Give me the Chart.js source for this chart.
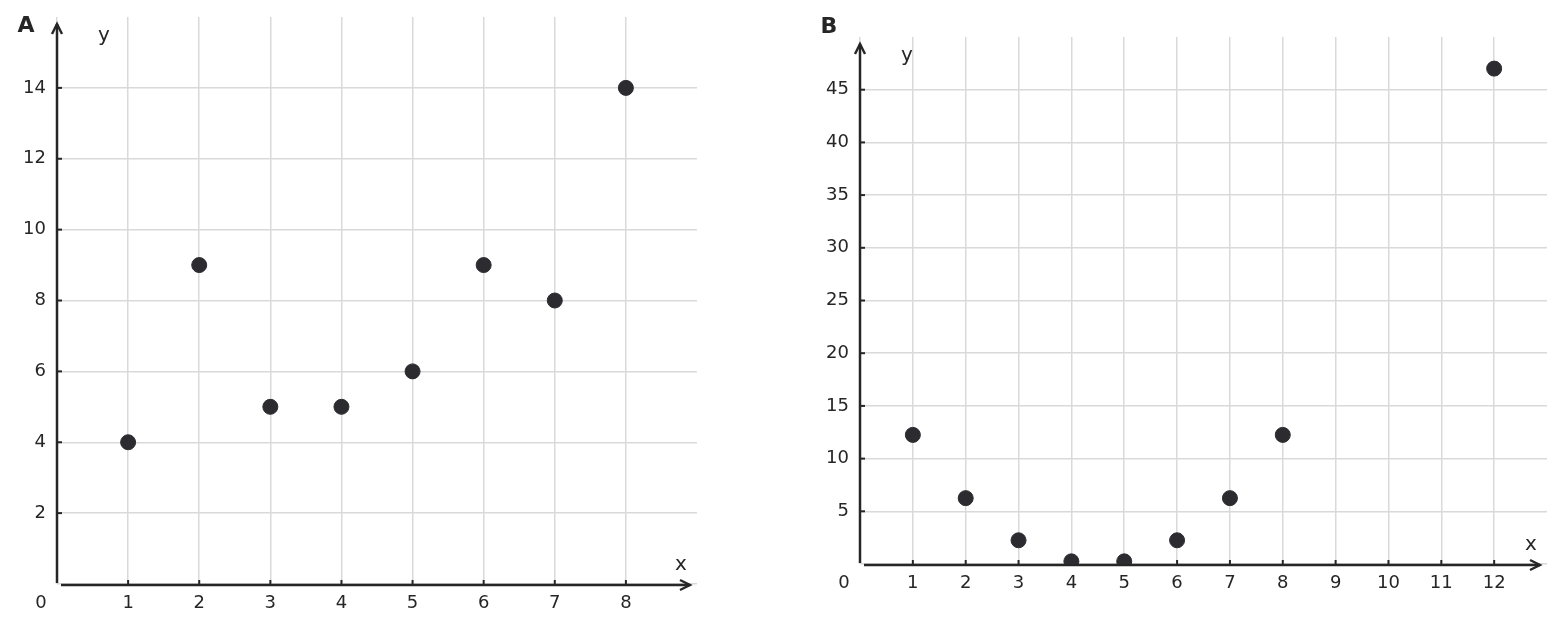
<!DOCTYPE html>
<html>
<head>
<meta charset="utf-8">
<script src="https://cdn.jsdelivr.net/npm/chart.js@4/dist/chart.umd.min.js"></script>
<style>
  html, body { margin:0; padding:0; background:#fff; }
  #wrap { position:relative; width:1565px; height:633px; }
  canvas { position:absolute; top:0; }
</style>
</head>
<body>
<div id="wrap">
  <canvas id="graficoA" width="780" height="633" style="left:0px;width:780px;height:633px;"></canvas>
  <canvas id="graficoB" width="785" height="633" style="left:780px;width:785px;height:633px;"></canvas>
</div>
<script>
// ================== Dados ==================
const aX = [1, 2, 3, 4, 5, 6, 7, 8];
const aY = [4, 9, 5, 5, 6, 9, 8, 14];
const aXMax = 9, aYMax = 16, aYStep = 2;

const bX = [1, 2, 3, 4, 5, 6, 7, 8, 12];
const bY = [12.25, 6.25, 2.25, 0.25, 0.25, 2.25, 6.25, 12.25, 47];
const bXMax = 13, bYMax = 50, bYStep = 5;

const corEixo = '#262626';
const corGrade = '#d9d9d9';
const corPonto = '#2b2b30';
const fonte = '"DejaVu Sans", sans-serif';

// ================== Plugin: eixos com setas e rótulos ==================
const eixosPlugin = {
  id: 'eixos',
  beforeDatasetsDraw(chart, args, o) {
    const ctx = chart.ctx;
    const { left, right, top, bottom } = chart.chartArea;
    const xs = chart.scales.x, ys = chart.scales.y;
    const tipY = top + 7, tipX = right - 7;

    ctx.save();
    ctx.strokeStyle = corEixo;
    ctx.lineWidth = 2.5;
    ctx.lineCap = 'butt';

    // eixo y
    ctx.beginPath();
    ctx.moveTo(left, bottom - 1);
    ctx.lineTo(left, tipY);
    ctx.stroke();
    // eixo x
    ctx.beginPath();
    ctx.moveTo(left + 4, bottom + 1);
    ctx.lineTo(tipX, bottom + 1);
    ctx.stroke();

    // setas
    ctx.lineWidth = 2.4;
    ctx.beginPath();
    ctx.moveTo(left - 5, tipY + 10);
    ctx.lineTo(left, tipY);
    ctx.lineTo(left + 5, tipY + 10);
    ctx.stroke();
    ctx.beginPath();
    ctx.moveTo(tipX - 10, bottom + 1 - 5);
    ctx.lineTo(tipX, bottom + 1);
    ctx.lineTo(tipX - 10, bottom + 1 + 5);
    ctx.stroke();

    // marcas dos ticks
    ctx.lineWidth = 2;
    xs.ticks.forEach(t => {
      if (t.value <= 0 || t.value >= xs.max) return;
      const px = xs.getPixelForValue(t.value);
      ctx.beginPath();
      ctx.moveTo(px, bottom);
      ctx.lineTo(px, bottom - 4);
      ctx.stroke();
    });
    ys.ticks.forEach(t => {
      if (t.value <= 0 || t.value >= ys.max) return;
      const py = ys.getPixelForValue(t.value);
      ctx.beginPath();
      ctx.moveTo(left, py);
      ctx.lineTo(left + 5, py);
      ctx.stroke();
    });

    // textos
    ctx.fillStyle = corEixo;
    ctx.textAlign = 'center';
    ctx.textBaseline = 'middle';
    ctx.font = '18px ' + fonte;
    ctx.fillText('0', left - 16, bottom + 19);
    ctx.font = '20px ' + fonte;
    ctx.fillText('x', right - 16, bottom - 19);
    ctx.fillText('y', left + 47, top + 19);
    ctx.font = 'bold 22px ' + fonte;
    ctx.fillText(o.letra, o.letraX, o.letraY);
    ctx.restore();
  }
};

// ================== Criar gráfico ==================
function criarGrafico(id, xs, ys, xMax, yMax, yStep, pad, letra, letraX, letraY) {
  const ctx = document.getElementById(id).getContext('2d');
  const pontos = xs.map((x, i) => ({ x: x, y: ys[i] }));
  const escondeLimites = (v, max) => (v === 0 || v === max) ? '' : v;
  const corLinha = (c, max) => c.tick && c.tick.value === max ? 'rgba(0,0,0,0)' : corGrade;

  return new Chart(ctx, {
    type: 'scatter',
    data: { datasets: [{ data: pontos, backgroundColor: corPonto, borderColor: corPonto, pointRadius: 7.5, pointHoverRadius: 7.5 }] },
    options: {
      responsive: false,
      animation: false,
      layout: { padding: pad },
      plugins: { legend: { display: false }, tooltip: { enabled: false }, eixos: { letra, letraX, letraY } },
      scales: {
        x: {
          type: 'linear', min: 0, max: xMax,
          border: { display: false },
          grid: { color: c => corLinha(c, xMax), lineWidth: 1.5, drawTicks: true, tickLength: 9, tickColor: 'rgba(0,0,0,0)' },
          ticks: { stepSize: 1, padding: 0, color: corEixo, font: { family: fonte, size: 18 }, maxRotation: 0,
                   callback: v => escondeLimites(v, xMax) },
          afterFit: s => { s.height = pad.xH; }
        },
        y: {
          type: 'linear', min: 0, max: yMax,
          border: { display: false },
          grid: { color: c => corLinha(c, yMax), lineWidth: 1.5, drawTicks: true, tickLength: 11, tickColor: 'rgba(0,0,0,0)' },
          ticks: { stepSize: yStep, padding: 0, color: corEixo, font: { family: fonte, size: 18 },
                   callback: v => escondeLimites(v, yMax) },
          afterFit: s => { s.width = pad.yW; }
        }
      }
    },
    plugins: [eixosPlugin]
  });
}

criarGrafico('graficoA', aX, aY, aXMax, aYMax, aYStep,
  { left: 0, top: 17, right: 83, bottom: 0, xH: 49, yW: 57 }, 'A', 26, 26);
criarGrafico('graficoB', bX, bY, bXMax, bYMax, bYStep,
  { left: 0, top: 37, right: 18, bottom: 0, xH: 69, yW: 80 }, 'B', 49, 27);
</script>
</body>
</html>
